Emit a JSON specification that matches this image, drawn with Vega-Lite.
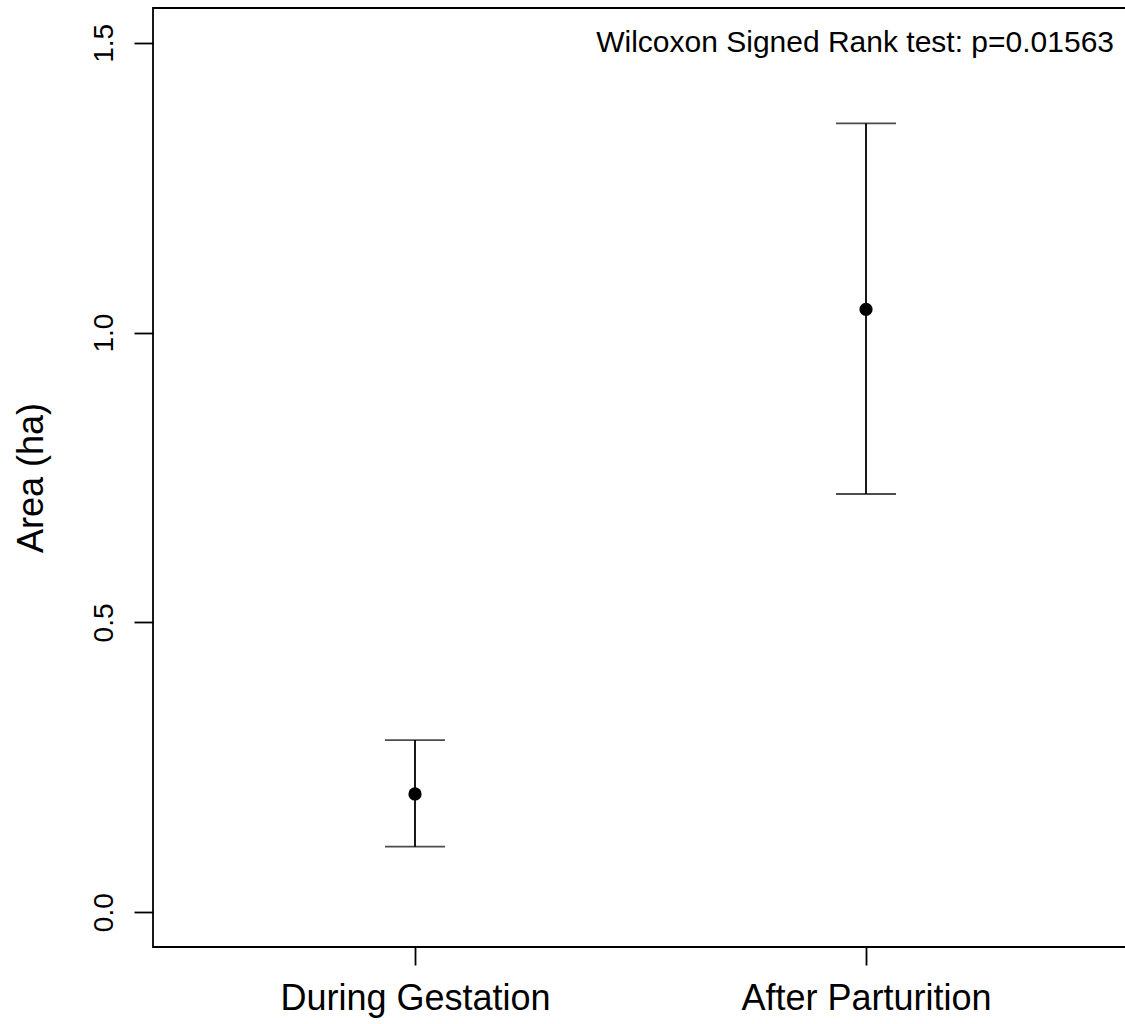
{
  "$schema": "https://vega.github.io/schema/vega-lite/v6.json",
  "autosize": "none",
  "width": 975,
  "height": 939,
  "padding": {"left": 153, "top": 8, "right": 0, "bottom": 77},
  "background": "white",
  "config": {
    "font": "Liberation Sans",
    "view": {"stroke": "black", "strokeWidth": 1.8},
    "axis": {"grid": false, "domain": false, "tickColor": "black", "tickWidth": 1.8, "labelColor": "black", "titleColor": "black", "labelFont": "Liberation Sans", "titleFont": "Liberation Sans", "titleFontWeight": "normal", "labelLimit": 0}
  },
  "datasets": {
    "stats": [
      {"period": "During Gestation", "mean": 0.204, "lower": 0.113, "upper": 0.297},
      {"period": "After Parturition", "mean": 1.040, "lower": 0.7215, "upper": 1.361}
    ],
    "note": [
      {"label": "Wilcoxon Signed Rank test: p=0.01563", "yv": 1.5}
    ]
  },
  "data": {"name": "stats"},
  "encoding": {
    "x": {
      "field": "period", "type": "nominal", "sort": null,
      "scale": {"type": "point", "padding": 0.5809},
      "axis": {"title": null, "labelAngle": 0, "labelFontSize": 36, "tickSize": 18, "labelPadding": 16, "labelBaseline": "top", "labelLimit": 0}
    }
  },
  "layer": [
    {
      "mark": {"type": "rule", "color": "black", "strokeWidth": 1.8},
      "encoding": {
        "y": {
          "field": "lower", "type": "quantitative",
          "scale": {"domain": [-0.06, 1.56], "nice": false, "zero": false},
          "axis": {"title": "Area (ha)", "values": [0, 0.5, 1, 1.5], "format": ".1f", "labelFontSize": 28, "labelAngle": -90, "labelAlign": "center", "labelBaseline": "bottom", "tickSize": 19, "labelPadding": 16, "titleFontSize": 36, "titlePadding": 40}
        },
        "y2": {"field": "upper"}
      }
    },
    {
      "mark": {"type": "tick", "color": "black", "size": 60, "thickness": 1.8, "orient": "horizontal"},
      "encoding": {"y": {"field": "upper", "type": "quantitative"}}
    },
    {
      "mark": {"type": "tick", "color": "black", "size": 60, "thickness": 1.8, "orient": "horizontal"},
      "encoding": {"y": {"field": "lower", "type": "quantitative"}}
    },
    {
      "mark": {"type": "circle", "color": "black", "opacity": 1, "size": 175},
      "encoding": {"y": {"field": "mean", "type": "quantitative"}}
    },
    {
      "data": {"name": "note"},
      "mark": {"type": "text", "x": {"expr": "width"}, "dx": -14, "align": "right", "baseline": "middle", "fontSize": 30, "color": "black", "font": "Liberation Sans"},
      "encoding": {
        "x": null,
        "y": {"field": "yv", "type": "quantitative"},
        "text": {"field": "label"}
      }
    }
  ]
}
